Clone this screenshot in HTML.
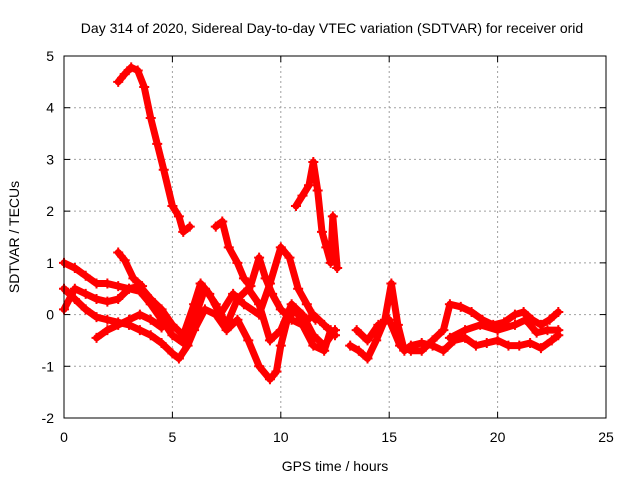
<!DOCTYPE html>
<html><head><meta charset="utf-8"><style>
body{margin:0;background:#fff}
svg{display:block;font-family:"Liberation Sans",sans-serif}
</style></head><body>
<svg id="chart" width="640" height="480">
<text x="332" y="33" font-size="14" text-anchor="middle">Day 314 of 2020, Sidereal Day-to-day VTEC variation (SDTVAR) for receiver orid</text>
<text x="335" y="471" font-size="14" text-anchor="middle">GPS time / hours</text>
<text transform="translate(19,237) rotate(-90)" font-size="14" text-anchor="middle">SDTVAR / TECUs</text>
<g id="grid"></g><g id="ticks"></g><g id="series"></g>
<rect x="64" y="56" width="542" height="362" fill="none" stroke="#000" stroke-width="1"/>
</svg>
<script>
const xTicks=[0,5,10,15,20,25];
const yTicks=[-2,-1,0,1,2,3,4,5];
const trackA=[[2.5,4.5],[2.8,4.65],[3.1,4.78],[3.4,4.72],[3.7,4.4],[4,3.8],[4.3,3.3],[4.6,2.8],[5,2.1],[5.3,1.9],[5.5,1.6],[5.8,1.7]];
const trackB=[[7,1.7],[7.3,1.8],[7.6,1.3],[8,1.0],[8.3,0.7],[8.6,0.55],[9,1.1],[9.3,0.7],[9.6,0.4],[10,0.1],[10.5,-0.1],[11,-0.2],[11.5,0.0],[12,-0.2],[12.5,-0.4]];
const trackC=[[10.7,2.1],[11,2.3],[11.3,2.5],[11.5,2.95],[11.7,2.4],[11.9,1.6],[12.1,1.3],[12.3,1.0],[12.4,1.9],[12.6,0.9]];
const trackD=[[0,1.0],[0.5,0.9],[1,0.75],[1.5,0.6],[2,0.6],[2.5,0.55],[3,0.5],[3.5,0.45],[4,0.2],[4.5,-0.1],[5,-0.4],[5.5,-0.55],[6,-0.1],[6.5,0.5],[7,0.2],[7.5,-0.2],[8,0.3],[8.5,0.5],[9,0.2],[9.5,-0.5],[10,-0.3],[10.5,0.2],[11,0.0],[11.5,-0.4],[12,-0.6],[12.5,-0.3]];
const trackE=[[0,0.5],[0.5,0.3],[1,0.1],[1.5,-0.05],[2,-0.1],[2.5,-0.15],[3,-0.2],[3.5,-0.3],[4,-0.4],[4.5,-0.55],[5,-0.75],[5.3,-0.85],[5.7,-0.6],[6,-0.3],[6.5,0.1],[7,0.0],[7.5,-0.3],[8,-0.1],[8.5,-0.5],[9,-1.0],[9.5,-1.25],[9.8,-1.1],[10,-0.6],[10.3,-0.1],[10.7,0.1],[11,-0.2],[11.5,-0.6],[12,-0.7],[12.3,-0.3]];
const trackF=[[0,0.1],[0.5,0.5],[1,0.4],[1.5,0.3],[2,0.25],[2.5,0.3],[3,0.5],[3.5,0.55],[4,0.3],[4.5,0.1],[5,-0.2],[5.5,-0.4],[6,0.2],[6.3,0.6],[6.7,0.4],[7.2,0.0],[7.8,0.4],[8.3,0.2],[9,0.0],[9.5,0.6],[10,1.3],[10.4,1.1],[10.8,0.5],[11.2,0.2],[11.6,-0.1]];
const trackG=[[1.5,-0.45],[2,-0.3],[2.5,-0.2],[3,-0.1],[3.5,0.0],[4,-0.1],[4.5,-0.25]];
const trackH=[[2.5,1.2],[2.8,1.05],[3.2,0.7],[3.6,0.55]];
const trackI=[[13.2,-0.6],[13.6,-0.7],[14,-0.85],[14.4,-0.5],[14.8,-0.1],[15.1,0.6],[15.4,-0.2],[15.7,-0.7],[16,-0.6],[16.5,-0.55],[17,-0.6],[17.5,-0.7],[18,-0.5],[18.5,-0.45],[19,-0.6],[19.5,-0.55],[20,-0.5],[20.5,-0.6],[21,-0.6],[21.5,-0.55],[22,-0.65],[22.5,-0.5],[22.8,-0.4]];
const trackJ=[[13.5,-0.3],[14,-0.5],[14.5,-0.2],[15,-0.1],[15.5,-0.6],[16,-0.7],[16.5,-0.7],[17,-0.5],[17.5,-0.3],[17.8,0.2],[18.3,0.15],[18.8,0.05],[19.3,-0.1],[19.8,-0.2],[20.3,-0.15],[20.8,0.0],[21.2,0.05],[21.6,-0.1],[22,-0.2],[22.4,-0.1],[22.8,0.05]];
const trackK=[[17.8,-0.45],[18.5,-0.3],[19.2,-0.2],[20,-0.3],[20.8,-0.2],[21.3,-0.1],[21.8,-0.35],[22.3,-0.3],[22.8,-0.3]];
const tracks=[trackA,trackB,trackC,trackD,trackE,trackF,trackG,trackH,trackI,trackJ,trackK];
const X=v=>64+v*(606-64)/25;
const Y=v=>418-(v+2)*(418-56)/7;
const NS='http://www.w3.org/2000/svg';
const grid=document.getElementById('grid'),ticks=document.getElementById('ticks'),ser=document.getElementById('series');
function mk(tag,attrs,parent){const e=document.createElementNS(NS,tag);for(const k in attrs)e.setAttribute(k,attrs[k]);parent.appendChild(e);return e;}
xTicks.forEach(t=>{
 if(t>0&&t<25){const g=mk('line',{x1:X(t),x2:X(t),y1:56,y2:418,stroke:'#a0a0a0','stroke-dasharray':'2,3'},grid);
 
 }
 mk('line',{x1:X(t),x2:X(t),y1:418,y2:412,stroke:'#000'},ticks);
 mk('line',{x1:X(t),x2:X(t),y1:56,y2:62,stroke:'#000'},ticks);
 const l=mk('text',{x:X(t),y:442,'font-size':14,'text-anchor':'middle'},ticks);l.textContent=t;
 
 
});
yTicks.forEach(t=>{
 if(t>-2&&t<5){const g=mk('line',{x1:64,x2:606,y1:Y(t),y2:Y(t),stroke:'#a0a0a0','stroke-dasharray':'2,3'},grid);
 
 }
 mk('line',{x1:64,x2:70,y1:Y(t),y2:Y(t),stroke:'#000'},ticks);
 mk('line',{x1:600,x2:606,y1:Y(t),y2:Y(t),stroke:'#000'},ticks);
 const l=mk('text',{x:54,y:Y(t)+5,'font-size':14,'text-anchor':'end'},ticks);l.textContent=t;
 
 
});
tracks.forEach((tr)=>{
 const p=mk('polyline',{points:tr.map(d=>X(d[0])+','+Y(d[1])).join(' '),fill:'none',stroke:'#ff0000','stroke-width':7,'stroke-linejoin':'round','stroke-linecap':'round'},ser);
 
 
 tr.forEach(d=>{
  const m=mk('path',{d:`M${X(d[0])-5},${Y(d[1])}h10M${X(d[0])},${Y(d[1])-5}v10`,stroke:'#ff0000','stroke-width':2},ser);
  
  
 });
});
</script>
</body></html>
